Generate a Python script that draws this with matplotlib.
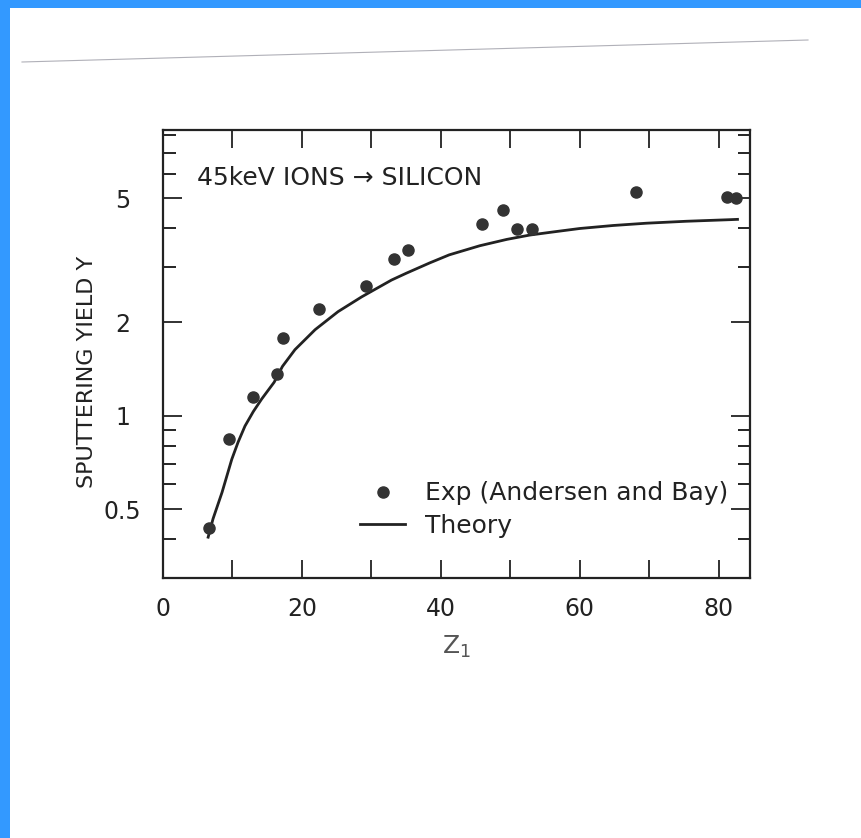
import numpy as np
import matplotlib
matplotlib.use('Agg')
from matplotlib import pyplot as plt
from matplotlib.ticker import FixedLocator, NullFormatter
from matplotlib.patches import Rectangle
from matplotlib.lines import Line2D

exp_z = [6.6, 9.5, 12.9, 16.4, 17.3, 22.4, 29.2, 33.2, 35.3, 45.9, 49.0, 50.9, 53.1, 68.1, 81.2, 82.5]
exp_y = [0.434, 0.843, 1.15, 1.36, 1.78, 2.21, 2.61, 3.19, 3.42, 4.15, 4.58, 3.98, 3.99, 5.23, 5.07, 5.03]

# theory curve
theory_z = [6.5, 7.2, 8.5, 9.9, 10.8, 11.8, 13.0, 14.2, 16.0, 17.2, 19.0, 21.9, 25.2, 28.6,
            32.9, 35.0, 38.4, 41.2, 45.6, 49.5, 52.8, 56.2, 60.0, 64.8, 69.6, 75.3, 81.6, 82.7]
theory_y = [0.406, 0.465, 0.566, 0.723, 0.82, 0.925, 1.03, 1.13, 1.28, 1.44, 1.63, 1.89, 2.16, 2.41,
            2.73, 2.87, 3.10, 3.29, 3.52, 3.69, 3.81, 3.90, 4.00, 4.09, 4.16, 4.22, 4.27, 4.28]

x_ticks = [0, 10, 20, 30, 40, 50, 60, 70, 80]
x_labels = ['0', '', '20', '', '40', '', '60', '', '80']
y_major = [0.5, 1, 2, 5]
y_labels = ['0.5', '1', '2', '5']
y_minor = [0.4, 0.6, 0.7, 0.8, 0.9, 3, 4, 6, 7, 8]

ink = '#222222'

fig = plt.figure(figsize=(8.62, 8.38), dpi=100)
fig.patch.set_facecolor('white')

# blue scan border + faint paper edge line
fig.add_artist(Rectangle((0, 1 - 8 / 838), 1, 8 / 838, transform=fig.transFigure,
                         color='#3399ff', lw=0))
fig.add_artist(Rectangle((0, 0), 10 / 862, 1, transform=fig.transFigure,
                         color='#3399ff', lw=0))
fig.add_artist(Line2D([22 / 862, 808 / 862], [1 - 62 / 838, 1 - 40 / 838],
                      transform=fig.transFigure, color='#b0b0b8', lw=0.8))

ax = fig.add_axes([163 / 862, 1 - 578 / 838, 587 / 862, 448 / 838])
ax.set_yscale('log')

ax.plot(theory_z, theory_y, color=ink, lw=2.0, label='Theory', zorder=2)
ax.plot(exp_z, exp_y, 'o', color='#333333', ms=8, label='Exp (Andersen and Bay)', zorder=3)

ax.set_xlim(0, 84.5)
ax.set_ylim(0.3, 8.3)

ax.set_xticks(x_ticks)
ax.set_xticklabels(x_labels)
ax.yaxis.set_major_locator(FixedLocator(y_major))
ax.set_yticklabels(y_labels, ha='center')
ax.yaxis.set_minor_locator(FixedLocator(y_minor))
ax.yaxis.set_minor_formatter(NullFormatter())

ax.tick_params(axis='x', which='major', direction='in', top=True, length=13, width=1.3,
               labelsize=17, pad=14, colors=ink)
ax.tick_params(axis='y', which='major', direction='in', right=True, length=14, width=1.3,
               labelsize=17, pad=29, colors=ink)
ax.tick_params(axis='y', which='minor', direction='in', right=True, length=9, width=1.2)
for s in ax.spines.values():
    s.set_linewidth(1.6)
    s.set_color(ink)

ax.set_ylabel('SPUTTERING YIELD Y', fontsize=16, color=ink)
ax.yaxis.set_label_coords(-0.112, 0.46)
ax.set_xlabel('Z$_1$', fontsize=18, color='#555555', labelpad=9)

ax.text(0.058, 0.893, '45keV IONS \u2192 SILICON', transform=ax.transAxes,
        fontsize=18, color=ink, va='center', ha='left')

handles, labels = ax.get_legend_handles_labels()
ax.legend(handles[::-1], labels[::-1], loc='lower right', bbox_to_anchor=(0.985, 0.061),
          frameon=False, fontsize=18, numpoints=1, handlelength=1.8, handletextpad=0.8,
          labelspacing=0.35, borderpad=0, labelcolor=ink)

fig.savefig('out.png', dpi=100, facecolor='white')
